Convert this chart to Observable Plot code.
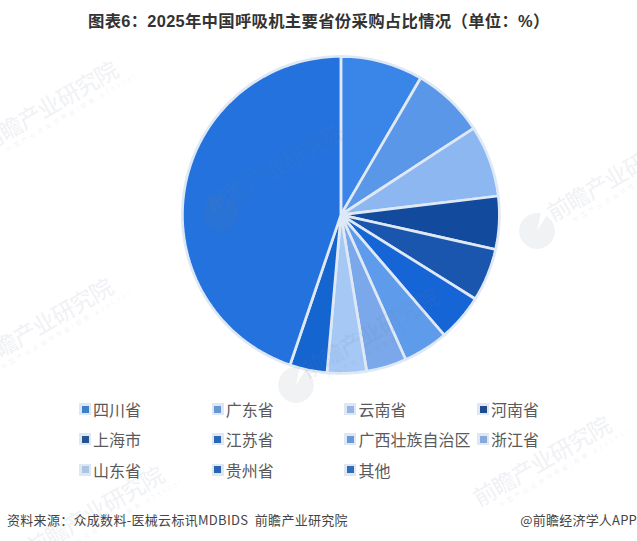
<!DOCTYPE html>
<html><head><meta charset="utf-8">
<script src="https://cdn.jsdelivr.net/npm/d3@7"></script>
<script src="https://cdn.jsdelivr.net/npm/@observablehq/plot@0.6"></script>
<style>
html,body{margin:0;padding:0;background:#fff}
#wrap{position:relative;width:637px;height:541px;overflow:hidden;font-family:"Noto Sans CJK SC","Liberation Sans",sans-serif}
#wrap>div{position:absolute;white-space:nowrap}
#title{left:88px;top:9px;font-size:16.4px;font-weight:700;color:#333;line-height:24px;letter-spacing:.27px;font-family:"Liberation Sans","Noto Sans CJK SC",sans-serif}
.lg{font-size:16px;color:#5a5a5a;line-height:20px;padding-left:14px;font-weight:400}
.sw{position:absolute;left:0;top:4px;width:12px;height:12px;background:#dfe7f2}
.sw i{position:absolute;left:2.5px;top:2.5px;width:7px;height:7px;display:block}
.foot{font-size:13px;color:#444;line-height:18px;top:511px}
.wm{transform:translate(-50%,-50%) rotate(-30deg);text-align:left;color:rgba(110,125,150,.10);pointer-events:none;line-height:1}
.wm b{display:block;font-size:23px;font-weight:500;letter-spacing:-1px}
.wm span{display:block;font-size:6.5px;letter-spacing:2.6px;margin:3px 0 0 18px}
.lo{width:36px;height:36px;border-radius:50%;background:rgba(110,125,150,.10);transform:translate(-50%,-50%);-webkit-mask:conic-gradient(#000 0 12deg,transparent 12deg 32deg,#000 32deg);mask:conic-gradient(#000 0 12deg,transparent 12deg 32deg,#000 32deg)}
</style></head><body><div id="wrap"></div>
<script>
const titleText = "图表6：2025年中国呼吸机主要省份采购占比情况（单位：%）";
const provinces = ["四川省","广东省","云南省","河南省","上海市","江苏省","广西壮族自治区","浙江省","山东省","贵州省","其他"];
const shares = [8.4,7.4,7.3,5.4,5.4,4.8,4.6,4.1,4.0,3.8,44.8];
const sliceColors = ["#3a85e8","#5b97e8","#8db7f0","#124b9e","#1a56ad","#1565d6","#5f9beb","#7aa8ea","#a5c8f5","#1565d0","#2372de"];
const legendColors = ["#3f80cc","#6596d6","#95b5e3","#1f4b8e","#26548f","#2a67b5","#6699d6","#88a9dc","#acc4e6","#2a64b0","#2f6cbc"];
const sourceText = "资料来源：众成数料-医械云标讯MDBIDS  前瞻产业研究院";
const creditText = "@前瞻经济学人APP";
const wmCenters = [[57,106],[283,168],[624,176],[52,323],[378,333],[550,461],[103,511]];
const logoCenters = [[221,213],[537,231],[296,385]];

// each slice is a spherical wedge: pole at the pie's centre, equator at its rim
let acc = 0;
const slices = shares.map((v,i)=>{
  const a0 = acc/100*360; acc += v; const a1 = acc/100*360;
  const steps = Math.ceil((a1-a0)/20);
  const rim = d3.range(steps+1).map(k=>[-(a0+(a1-a0)*k/steps),0]);
  return {type:"Feature",properties:{name:provinces[i],color:sliceColors[i]},
    geometry:{type:"Polygon",coordinates:[[[0,90],...rim,[0,90]]]}};
});
const pieProjection = d3.geoAzimuthalEquidistant().rotate([0,-90]).angle(180)
  .scale(158.5/(Math.PI/2)).translate([340.4,214.4]).precision(0.1);

const chart = Plot.plot({
  width:637,height:541,margin:0,
  projection:pieProjection,
  marks:[Plot.geo(slices,{fill:d=>d.properties.color,stroke:"#dfe8f5",strokeWidth:2.7,strokeLinejoin:"round"})]
});
const wrap = document.getElementById("wrap");
wrap.appendChild(chart);
chart.style.position="absolute";chart.style.left="0";chart.style.top="0";

function add(cls,html,css){const d=document.createElement("div");d.className=cls;d.innerHTML=html;Object.assign(d.style,css||{});wrap.appendChild(d);return d;}
add("", titleText, {}).id="title";
provinces.forEach((p,i)=>{
  const c=i%4,r=Math.floor(i/4);
  add("lg",`<span class="sw"><i style="background:${legendColors[i]}"></i></span>${p}`,
    {left:(79+c*132.7)+"px",top:(399+r*30.3)+"px"});
});
add("foot",sourceText.replace("  ","&nbsp;&nbsp;"),{left:"7px",letterSpacing:".3px"});
add("foot",creditText,{right:"0px",letterSpacing:".2px"});
wmCenters.forEach(([x,y])=>add("wm","<b>前瞻产业研究院</b><span>中国产业咨询领导者(股票 839599)</span>",{left:x+"px",top:y+"px"}));
logoCenters.forEach(([x,y])=>add("lo","",{left:x+"px",top:y+"px"}));
</script></body></html>
